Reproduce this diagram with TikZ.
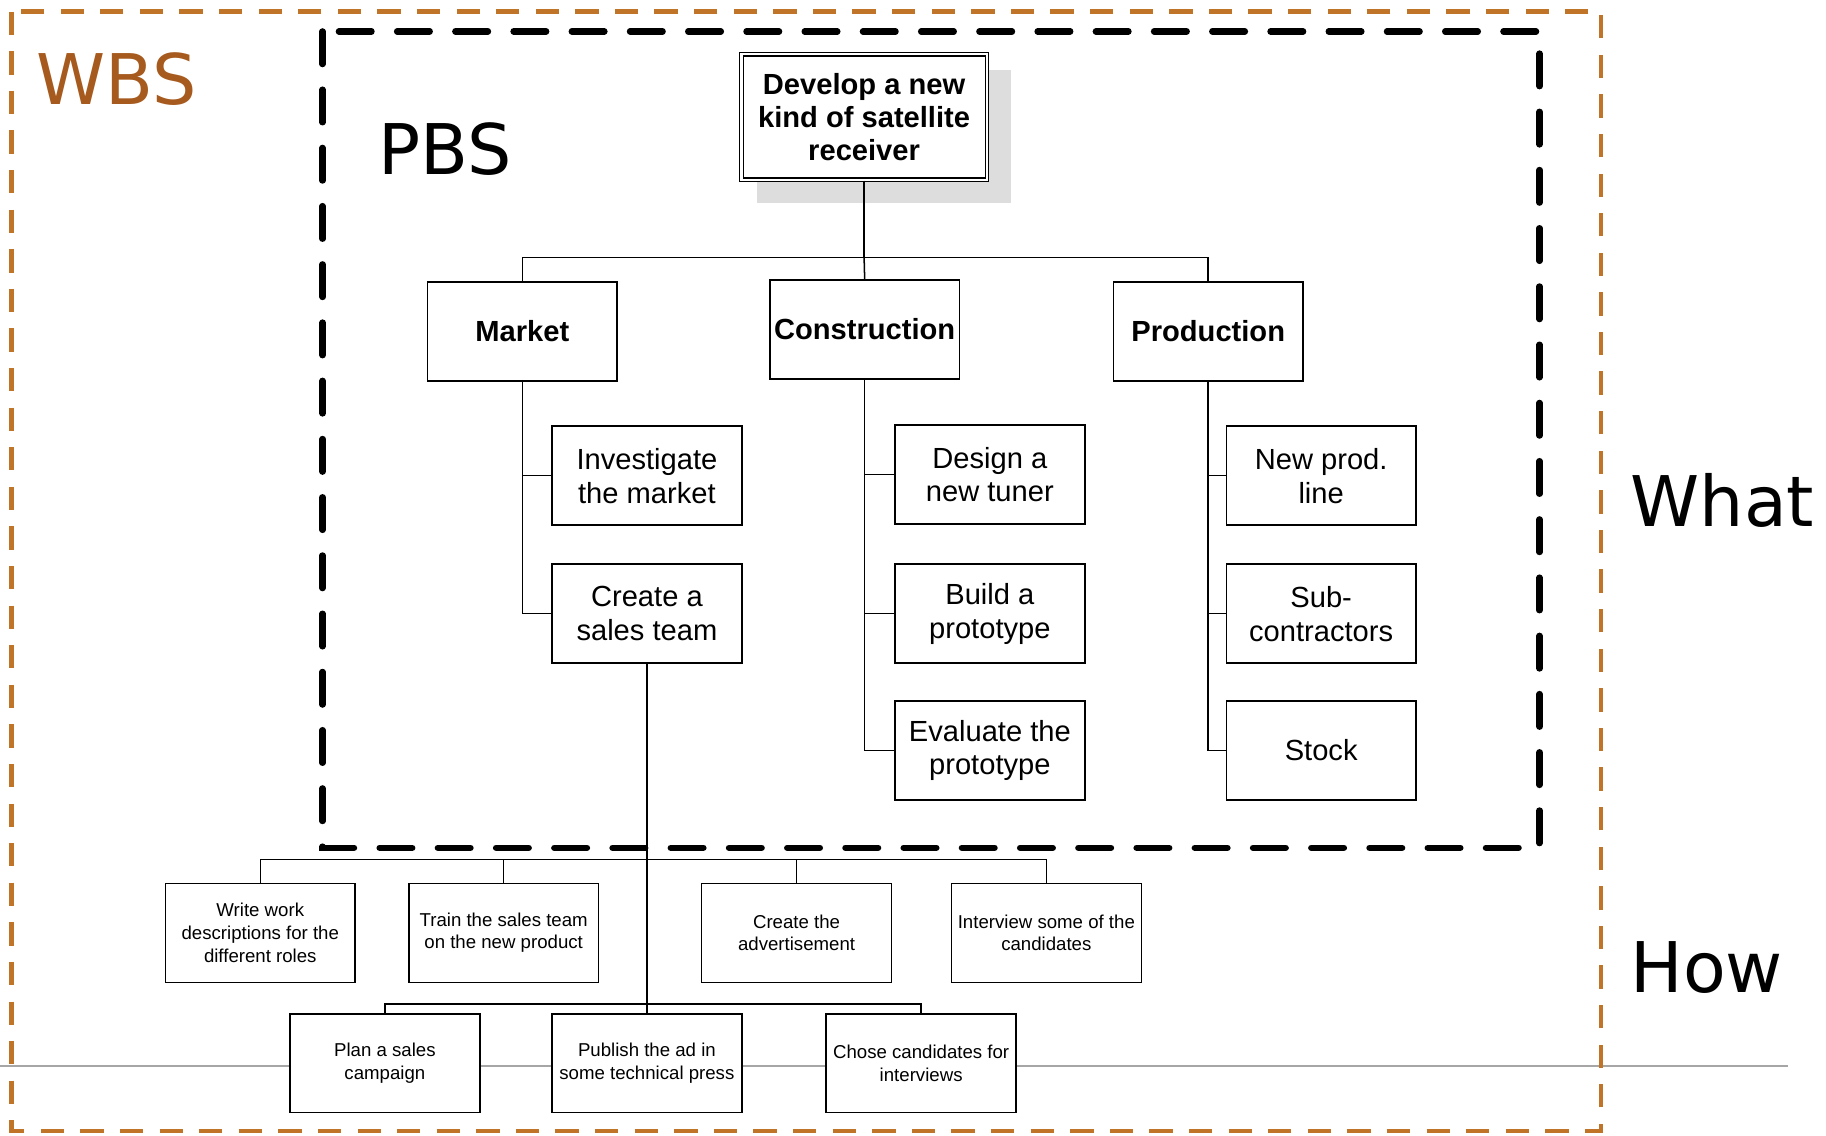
\documentclass[tikz,border=0pt]{standalone}
\usepackage{fontspec}
\setmainfont{Liberation Sans}
\newfontfamily\labelfont{DejaVu Sans}
\definecolor{wbsline}{RGB}{192,116,40}
\definecolor{wbstext}{RGB}{166,90,30}
\definecolor{shadowgray}{RGB}{221,221,221}
\definecolor{axisgray}{RGB}{166,166,166}
\begin{document}
\begin{tikzpicture}[x=1pt,y=-1pt,
  box/.style={draw, line width=1.3pt, fill=white, align=center, inner sep=0pt,
              minimum width=163pt, minimum height=85pt},
  topbox/.style={box, double, double distance=2.2pt, line width=1pt,
              minimum width=211pt, minimum height=108pt,
              font=\bfseries\fontsize{25}{28}\selectfont},
  headbox/.style={box, font=\bfseries\fontsize{25}{28}\selectfont},
  taskbox/.style={box, font=\fontsize{25}{29}\selectfont},
  workbox/.style={box, font=\fontsize{16}{19.5}\selectfont},
  link/.style={draw, line width=1.3pt},
  biglabel/.style={inner sep=0pt, anchor=base west, font=\labelfont\fontsize{60}{60}\selectfont},
  wbsframe/.style={draw=wbsline, line width=3.8pt, dash pattern=on 20pt off 14pt},
  pbsframe/.style={draw=black, line width=5.5pt, line cap=round, dash pattern=on 28pt off 22pt}
]
\useasboundingbox (0,0) rectangle (1568,975);

% horizontal separator behind the work packages
\draw[axisgray, line width=1.6pt] (0,915) -- (1535,915);

% outer WBS frame
\draw[wbsframe] (10,10) rectangle (1375,971);
\node[biglabel, text=wbstext] (wbs) at (31,90) {WBS};

% goal node with its shadow
\fill[shadowgray] (650,60) rectangle (868,174);
\node[topbox] (top) at (742,100.5) {Develop a new\\kind of satellite\\receiver};

% first level
\node[headbox] (market) at (448.5,284.5) {Market};
\node[headbox] (constr) at (742.5,283) {Construction};
\node[headbox] (prod)   at (1037.5,284.5) {Production};

% second level
\node[taskbox] (inv)    at (555.5,408.5) {Investigate\\the market};
\node[taskbox] (sales)  at (555.5,527)   {Create a\\sales team};
\node[taskbox] (design) at (850,407.5)   {Design a\\new tuner};
\node[taskbox] (build)  at (850,527)     {Build a\\prototype};
\node[taskbox] (eval)   at (850,644.5)   {Evaluate the\\prototype};
\node[taskbox] (newp)   at (1134.5,408.5) {New prod.\\line};
\node[taskbox] (sub)    at (1134.5,527)   {Sub-\\contractors};
\node[taskbox] (stock)  at (1134.5,644.5) {Stock};

% work packages
\node[workbox] (write) at (223.5,801) {Write work\\descriptions for the\\different roles};
\node[workbox] (train) at (432.5,801) {Train the sales team\\on the new product};
\node[workbox] (adv)   at (684,801)   {Create the\\advertisement};
\node[workbox] (intv)  at (898.5,801) {Interview some of the\\candidates};
\node[workbox] (plan)  at (330.5,913) {Plan a sales\\campaign};
\node[workbox] (pub)   at (555.5,913) {Publish the ad in\\some technical press};
\node[workbox] (chose) at (791,913)   {Chose candidates for\\interviews};

% bus points
\coordinate (bus1) at (742,221);
\coordinate (bus2) at (555.5,738);
\coordinate (bus3) at (555.5,862);

% connectors
\path[link] (top.south) -- (bus1);
\path[link] (market.north) |- (bus1) -| (prod.north);
\path[link] (bus1) -- (constr.north);

\path[link] (market.south) |- (inv.west);
\path[link] (market.south) |- (sales.west);
\path[link] (constr.south) |- (design.west);
\path[link] (constr.south) |- (build.west);
\path[link] (constr.south) |- (eval.west);
\path[link] (prod.south) |- (newp.west);
\path[link] (prod.south) |- (sub.west);
\path[link] (prod.south) |- (stock.west);

\path[link] (sales.south) -- (pub.north);
\path[link] (write.north) |- (bus2) -| (intv.north);
\path[link] (train.north) -- (train.north |- bus2);
\path[link] (adv.north) -- (adv.north |- bus2);
\path[link] (plan.north) |- (bus3) -| (chose.north);

% product breakdown frame
\draw[pbsframe] (277,27) rectangle (1322,728);
\node[biglabel] (pbs) at (325,150) {PBS};

% side labels
\node[biglabel] (what) at (1400,452) {What};
\node[biglabel] (how)  at (1400,852) {How};
\end{tikzpicture}
\end{document}
